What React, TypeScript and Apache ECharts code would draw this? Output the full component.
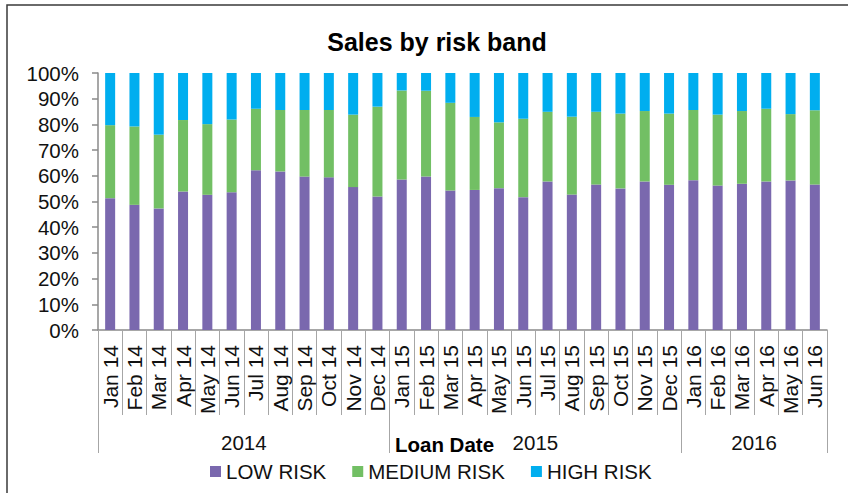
import React, { useEffect, useRef } from "react";
import * as echarts from "echarts";

const months = [
  "Jan 14", "Feb 14", "Mar 14", "Apr 14", "May 14", "Jun 14", "Jul 14", "Aug 14", "Sep 14", "Oct 14", "Nov 14", "Dec 14",
  "Jan 15", "Feb 15", "Mar 15", "Apr 15", "May 15", "Jun 15", "Jul 15", "Aug 15", "Sep 15", "Oct 15", "Nov 15", "Dec 15",
  "Jan 16", "Feb 16", "Mar 16", "Apr 16", "May 16", "Jun 16",
];
const years = ["2014", "2015", "2016"];
const yearCounts = [12, 12, 6];

const lowRisk = [
  51.3, 48.7, 47.3, 53.9, 52.6, 53.6, 62.2, 61.7, 59.7, 59.4, 55.6, 51.9,
  58.6, 59.7, 54.3, 54.5, 55.2, 51.7, 57.8, 52.7, 56.6, 55.1, 57.8, 56.5,
  58.3, 56.2, 56.9, 57.8, 58.2, 56.6,
];
const mediumRisk = [
  28.4, 30.5, 28.7, 27.8, 27.5, 28.3, 23.9, 23.9, 25.9, 26.2, 28.2, 35.0,
  34.6, 33.4, 34.1, 28.4, 25.6, 30.5, 27.1, 30.3, 28.3, 29.1, 27.4, 27.7,
  27.3, 27.6, 28.3, 28.3, 25.8, 28.9,
];
const highRisk = [
  20.3, 20.8, 24.0, 18.3, 19.9, 18.1, 13.9, 14.4, 14.4, 14.4, 16.2, 13.1,
  6.8, 6.9, 11.6, 17.1, 19.2, 17.8, 15.1, 17.0, 15.1, 15.8, 14.8, 15.8,
  14.4, 16.2, 14.8, 13.9, 16.0, 14.5,
];

const FONT = "'Liberation Sans', Arial, sans-serif";

export default function App() {
  const ref = useRef<HTMLDivElement>(null);

  useEffect(() => {
    if (!ref.current) return;
    const chart = echarts.init(ref.current, null, { renderer: "svg" });

    const bounds: number[] = [0];
    const centres: number[] = [];
    let acc = 0;
    yearCounts.forEach((c) => {
      centres.push(acc + c / 2);
      acc += c;
      bounds.push(acc);
    });

    const grey = "#8a8a8a";

    chart.setOption({
      animation: false,
      textStyle: { fontFamily: FONT },
      title: {
        text: "Sales by risk band",
        left: 432,
        top: 24,
        textAlign: "center",
        textStyle: { fontFamily: FONT, fontSize: 25, fontWeight: "bold", color: "#000" },
      },
      legend: {
        left: 205,
        top: 456,
        itemWidth: 11,
        itemHeight: 11,
        itemGap: 26,
        icon: "rect",
        textStyle: { fontFamily: FONT, fontSize: 20.5, color: "#111" },
        data: ["LOW RISK", "MEDIUM RISK", "HIGH RISK"],
      },
      graphic: [
        {
          type: "rect",
          shape: { x: 7, y: 5, width: 1000, height: 1000 },
          style: { fill: "none", stroke: "#3a3a3a", lineWidth: 1.5 },
          silent: true,
        },
      ],
      grid: { left: 98, right: 21, top: 73, bottom: 163, containLabel: false },
      xAxis: [
        {
          type: "category",
          data: months,
          position: "bottom",
          axisLine: { show: true, lineStyle: { color: grey, width: 1.5 } },
          axisTick: { show: true, interval: 0, length: 85, lineStyle: { color: "#a6a6a6", width: 1 } },
          axisLabel: {
            interval: 0,
            rotate: 90,
            margin: 15,
            fontFamily: FONT,
            fontSize: 21,
            color: "#111",
          },
          splitLine: { show: false },
        },
        {
          type: "value",
          min: 0,
          max: months.length,
          position: "bottom",
          axisLine: { show: false },
          splitLine: { show: false },
          axisTick: {
            show: true,
            customValues: bounds,
            length: 123,
            lineStyle: { color: "#a6a6a6", width: 1 },
          },
          axisLabel: {
            show: true,
            customValues: centres,
            margin: 102,
            fontFamily: FONT,
            fontSize: 20.5,
            color: "#111",
            formatter: (v: number) => {
              const i = centres.findIndex((c) => Math.abs(c - v) < 1e-6);
              return i >= 0 ? years[i] : "";
            },
          },
          name: "Loan Date",
          nameLocation: "middle",
          nameGap: 104,
          nameMoveOverlap: false,
          nameTextStyle: {
            fontFamily: FONT,
            fontSize: 20.5,
            fontWeight: "bold",
            color: "#000",
            padding: [0, 36, 0, 0],
          },
        },
      ],
      yAxis: {
        type: "value",
        min: 0,
        max: 100,
        interval: 10,
        axisLine: { show: true, lineStyle: { color: grey, width: 1.5 } },
        axisTick: { show: true, length: 6, lineStyle: { color: grey, width: 1.5 } },
        splitLine: { show: false },
        axisLabel: {
          formatter: "{value}%",
          margin: 19,
          fontFamily: FONT,
          fontSize: 20.5,
          color: "#111",
        },
      },
      series: [
        { name: "LOW RISK", type: "bar", stack: "total", barWidth: 10, data: lowRisk, itemStyle: { color: "#7A68AE" } },
        { name: "MEDIUM RISK", type: "bar", stack: "total", barWidth: 10, data: mediumRisk, itemStyle: { color: "#72BF64" } },
        { name: "HIGH RISK", type: "bar", stack: "total", barWidth: 10, data: highRisk, itemStyle: { color: "#00AEEF" } },
      ],
    });

    return () => chart.dispose();
  }, []);

  return (
    <div
      ref={ref}
      style={{ position: "absolute", left: 0, top: 0, width: 848, height: 493 }}
    />
  );
}
